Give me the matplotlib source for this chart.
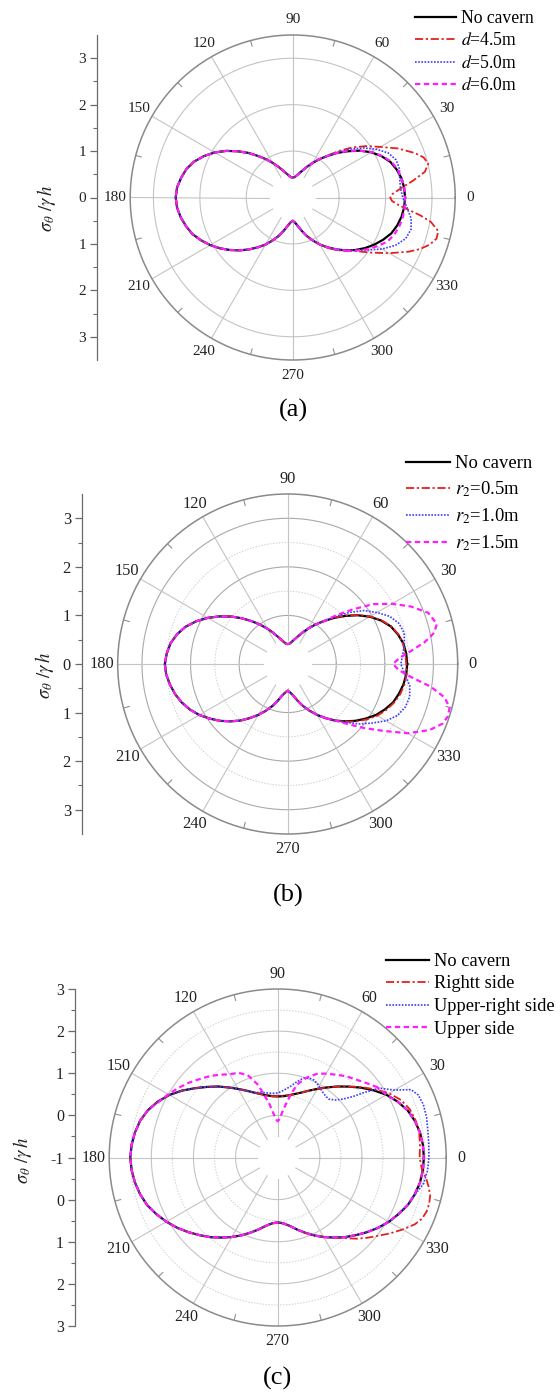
import numpy as np
import matplotlib
matplotlib.use("Agg")
import matplotlib.pyplot as plt

plt.rcParams['font.family'] = ['Liberation Serif', 'DejaVu Serif']
plt.rcParams['mathtext.fontset'] = 'stix'

# ---------------------------------------------------------------- data
# angles in degrees, values = sigma_theta / (gamma h)
# Each cavern case coincides with the "No cavern" curve except on the arc listed.

# ---- panel (a): cavern distance d
a_base_th = list(range(-180, 181, 5))
a_base = [2.52, 2.50, 2.45, 2.38, 2.30, 2.18, 2.05, 1.91, 1.76, 1.61,
          1.46, 1.31, 1.17, 1.02, 0.88, 0.74, 0.62, 0.54, 0.50,          # -180 .. -90
          0.54, 0.62, 0.74, 0.88, 1.02, 1.17, 1.31, 1.46, 1.61, 1.76,
          1.90, 2.03, 2.15, 2.26, 2.33, 2.38, 2.41, 2.42,                # -85 .. 0
          2.41, 2.38, 2.32, 2.24, 2.11, 1.95, 1.76, 1.55, 1.36, 1.17,
          1.01, 0.86, 0.73, 0.62, 0.54, 0.48, 0.44, 0.43,                # 5 .. 90
          0.44, 0.48, 0.54, 0.62, 0.73, 0.86, 1.01, 1.17, 1.36, 1.55,
          1.75, 1.94, 2.11, 2.26, 2.37, 2.44, 2.50, 2.52]                # 95 .. 180

a_d45_th = [-55, -50, -45, -40, -35, -30, -25, -22, -19, -16, -13, -10,
            -8, -6, -4, -2, 0, 2, 5, 8, 11, 14, 17, 20, 25, 30, 35, 40, 45, 50]
a_d45 = [1.33, 1.48, 1.62, 1.80, 2.07, 2.40, 2.76, 2.96, 3.12, 3.22, 3.22, 3.02,
         2.78, 2.50, 2.28, 2.14, 2.10, 2.15, 2.35, 2.62, 2.90, 3.01, 2.95, 2.80,
         2.50, 2.18, 1.93, 1.68, 1.42, 1.19]

a_d50_th = [-45, -40, -35, -30, -25, -20, -15, -10, -5, 0, 5, 10, 15, 20, 25, 30, 35, 40, 45]
a_d50 = [1.60, 1.77, 1.97, 2.22, 2.44, 2.59, 2.64, 2.59, 2.47, 2.37,
         2.33, 2.34, 2.38, 2.37, 2.27, 2.08, 1.86, 1.62, 1.38]

a_d60_th = [-45, -40, -35, -30, -25, -20, -15, -10, -5, 0, 5, 10, 15, 20, 25, 30, 35, 40, 45]
a_d60 = [1.62, 1.78, 1.95, 2.10, 2.25, 2.33, 2.38, 2.41, 2.42, 2.42,
         2.41, 2.38, 2.34, 2.26, 2.12, 1.96, 1.76, 1.56, 1.36]

# ---- panel (b): cavern radius r2
b_base_th = list(range(-180, 181, 5))
b_base = [2.53, 2.51, 2.46, 2.40, 2.32, 2.22, 2.10, 1.96, 1.82, 1.67,
          1.52, 1.36, 1.21, 1.06, 0.92, 0.78, 0.66, 0.59, 0.55,          # -180 .. -90
          0.59, 0.66, 0.78, 0.92, 1.06, 1.21, 1.36, 1.52, 1.67, 1.82,
          1.96, 2.10, 2.21, 2.31, 2.37, 2.42, 2.45, 2.46,                # -85 .. 0
          2.45, 2.42, 2.35, 2.26, 2.12, 1.95, 1.75, 1.54, 1.34, 1.15,
          0.99, 0.84, 0.71, 0.60, 0.52, 0.46, 0.42, 0.41,                # 5 .. 90
          0.42, 0.46, 0.52, 0.60, 0.71, 0.84, 0.99, 1.15, 1.33, 1.52,
          1.71, 1.90, 2.08, 2.24, 2.36, 2.45, 2.50, 2.53]                # 95 .. 180

b_r05_th = [-45, -40, -35, -30, -25, -20, -15, -10, -5, 0, 5, 10, 15, 20, 25, 30, 35, 40, 45]
b_r05 = [1.68, 1.84, 1.99, 2.13, 2.24, 2.33, 2.40, 2.44, 2.46, 2.44,
         2.43, 2.41, 2.36, 2.27, 2.13, 1.96, 1.76, 1.55, 1.35]

b_r10_th = [-45, -40, -35, -30, -25, -20, -15, -10, -5, 0, 5, 10, 15, 20, 25, 30, 35, 40, 45]
b_r10 = [1.70, 1.92, 2.12, 2.34, 2.50, 2.58, 2.60, 2.55, 2.42, 2.33,
         2.38, 2.44, 2.48, 2.44, 2.32, 2.12, 1.92, 1.65, 1.38]

b_r15_th = [-55, -50, -45, -40, -35, -30, -25, -21, -18, -15, -12, -9, -6, -3,
            0, 3, 6, 9, 12, 15, 20, 25, 30, 35, 40, 45]
b_r15 = [1.36, 1.52, 1.75, 2.05, 2.40, 2.85, 3.22, 3.42, 3.47, 3.45, 3.30, 2.98, 2.55, 2.28,
         2.17, 2.30, 2.55, 2.85, 3.08, 3.18, 3.08, 2.80, 2.48, 2.15, 1.75, 1.42]

# ---- panel (c): cavern location (radial axis starts at -1 in the centre)
c_base_th = list(range(0, 361, 5))
c_base = [2.47, 2.46, 2.43, 2.37, 2.28, 2.14, 1.98, 1.78, 1.58, 1.38,
          1.20, 1.03, 0.88, 0.75, 0.64, 0.56, 0.50, 0.46, 0.45,          # 0 .. 90
          0.46, 0.50, 0.56, 0.64, 0.75, 0.88, 1.03, 1.20, 1.37, 1.56,
          1.77, 1.97, 2.14, 2.28, 2.38, 2.44, 2.48, 2.50,                # 95 .. 180
          2.48, 2.44, 2.38, 2.30, 2.18, 2.05, 1.91, 1.76, 1.61, 1.47,
          1.32, 1.18, 1.04, 0.90, 0.77, 0.65, 0.57, 0.54,                # 185 .. 270
          0.57, 0.65, 0.77, 0.90, 1.04, 1.18, 1.32, 1.47, 1.61, 1.76,
          1.91, 2.05, 2.17, 2.29, 2.37, 2.43, 2.46, 2.47]                # 275 .. 360

c_right_th = [-55, -50, -46, -42, -38, -34, -30, -26, -23, -20, -17, -14, -11, -8, -5,
              0, 5, 10, 15, 20, 25, 30, 35, 40]
c_right = [1.33, 1.50, 1.68, 1.85, 2.02, 2.22, 2.42, 2.62, 2.72, 2.76, 2.76, 2.73, 2.65, 2.56, 2.44,
           2.37, 2.39, 2.41, 2.39, 2.34, 2.23, 2.05, 1.82, 1.60]

c_upright_th = [-15, -10, -5, 0, 5, 10, 15, 20, 24, 27, 30, 34, 37, 39, 42, 45,
                49, 52, 56, 59, 62, 65, 68, 72, 76, 80, 85, 90, 95, 100, 105]
c_upright = [2.38, 2.52, 2.57, 2.59, 2.60, 2.62, 2.66, 2.68, 2.65, 2.55, 2.20, 1.94, 1.56, 1.30,
             1.07, 0.93, 0.84, 0.85, 0.89, 0.94, 0.99, 1.03, 1.03, 0.98, 0.85, 0.71, 0.60, 0.53,
             0.53, 0.56, 0.60]

c_upper_th = [35, 40, 45, 50, 55, 60, 65, 70, 75, 78, 81, 84, 87, 90, 93, 96, 99, 102, 105,
              110, 115, 120, 125, 130, 135, 140, 145, 150, 155]
c_upper = [1.90, 1.75, 1.62, 1.52, 1.40, 1.30, 1.19, 1.02, 0.80, 0.55, 0.30, 0.10, -0.08,
           -0.14, -0.08, 0.08, 0.30, 0.50, 0.78, 1.08, 1.22, 1.28, 1.40, 1.52, 1.63, 1.76,
           1.88, 2.00, 2.12]

# labels
angle_ticks = list(range(0, 360, 30))
angle_labels = [str(a) for a in angle_ticks]
left_ticks_ab = [3, 2, 1, 0, -1, -2, -3]
left_labels_ab = ['3', '2', '1', '0', '1', '2', '3']
left_ticks_c = [4, 3, 2, 1, 0, -1, -2, -3, -4]
left_labels_c = ['3', '2', '1', '0', '-1', '0', '1', '2', '3']
legend_a = ['No cavern', r'$d$=4.5m', r'$d$=5.0m', r'$d$=6.0m']
legend_b = ['No cavern', r'$r_2$=0.5m', r'$r_2$=1.0m', r'$r_2$=1.5m']
legend_c = ['No cavern', 'Rightt side', 'Upper-right side', 'Upper side']
ylabel_txt = r'$\sigma_{\theta}\ /\gamma\, h$'


def full_curve(base_th, base_v, arc_th=None, arc_v=None):
    """Closed curve: the base readings, with the listed arc replacing the base there."""
    bt = np.asarray(base_th, float) % 360
    bv = np.asarray(base_v, float)
    if arc_th is None:
        th, v = bt, bv
    else:
        at = np.asarray(arc_th, float)
        av = np.asarray(arc_v, float)
        lo, hi = at[0], at[-1]
        bts = (bt - lo) % 360 + lo
        keep = bts > hi
        th = np.concatenate([at, bts[keep]])
        v = np.concatenate([av, bv[keep]])
    th, idx = np.unique(th, return_index=True)
    v = v[idx]
    th = np.append(th, th[0] + 360)
    v = np.append(v, v[0])
    return np.deg2rad(th), v


# ---------------------------------------------------------------- styles
W, H = 560, 1396
fig = plt.figure(figsize=(W / 100, H / 100), dpi=100)
fig.patch.set_facecolor('white')

STY = [dict(color='black', lw=1.6, ls='-'),
       dict(color='#e3211f', lw=1.3, ls=(0, (4.5, 1.5, 1.2, 1.5))),
       dict(color='#3c3cff', lw=1.2, ls=(0, (1.0, 0.9))),
       dict(color='#ff1cff', lw=1.6, ls=(0, (2.4, 1.6)))]


def fx(px):
    return px / W


def fy(py):
    return 1 - py / H


def panel(cx, cy, rad, rmin, rmax, r_in, solid_r, dotted_r, grid_c, ax_x,
          yl_x, yl_y, lt, ll, curves, labels, leg_xy, leg_fs, leg_sp, tick_fs, tag, tag_xy):
    ax = fig.add_axes([fx(cx - rad), fy(cy + rad), 2 * rad / W, 2 * rad / H],
                      projection='polar')
    ax.set_ylim(rmin, rmax)
    ax.grid(False)
    ax.set_yticks([])
    th = np.linspace(0, 2 * np.pi, 721)
    for r in solid_r:
        ax.plot(th, np.full_like(th, r), color=grid_c, lw=0.8, zorder=1)
    for r in dotted_r:
        ax.plot(th, np.full_like(th, r), color='#d0d0d0', lw=0.7, ls=(0, (1.5, 1.5)), zorder=1)
    for a in range(0, 360, 30):
        ax.plot([np.deg2rad(a)] * 2, [r_in, rmax], color='#c4c4c4', lw=0.8, zorder=1)
    span = rmax - rmin
    for a in range(15, 360, 30):
        ax.plot([np.deg2rad(a)] * 2, [rmax - 0.035 * span, rmax], color='#909090', lw=0.8, zorder=1)
    ax.spines['polar'].set_color('#8a8a8a')
    ax.spines['polar'].set_linewidth(1.1)
    ax.set_xticks(np.deg2rad(angle_ticks))
    ax.set_xticklabels(angle_labels, fontsize=tick_fs, color='#222222')
    ax.tick_params(axis='x', length=0, pad=4)
    handles = []
    for (tt, vv), st in zip(curves, STY):
        h, = ax.plot(tt, vv, zorder=3, **st)
        handles.append(h)
    ax.legend(handles, labels, loc='upper left', bbox_to_anchor=(fx(leg_xy[0]), fy(leg_xy[1])),
              bbox_transform=fig.transFigure, frameon=False, fontsize=leg_fs,
              handlelength=2.35, handletextpad=0.28, labelspacing=leg_sp,
              borderpad=0, borderaxespad=0)

    # left linear axis
    half = (rmax - rmin)
    axl = fig.add_axes([fx(ax_x), fy(cy + rad), 0.0001, 2 * rad / H])
    axl.set_ylim(-half, half)
    for s in ['right', 'top', 'bottom']:
        axl.spines[s].set_visible(False)
    axl.spines['left'].set_color('#6a6a6a')
    axl.spines['left'].set_linewidth(0.9)
    axl.patch.set_visible(False)
    axl.set_xticks([])
    axl.set_yticks(lt)
    axl.set_yticklabels(ll)
    minors = [v + 0.5 for v in lt[1:]]
    axl.set_yticks(minors, minor=True)
    axl.tick_params(axis='y', which='major', direction='out', length=5, width=0.9,
                    color='#6a6a6a', labelsize=tick_fs, pad=3, labelcolor='#222222')
    axl.tick_params(axis='y', which='minor', direction='out', length=3, width=0.8,
                    color='#6a6a6a')
    fig.text(fx(yl_x), fy(yl_y), ylabel_txt, rotation=90, ha='center', va='center',
             fontsize=13.5, color='#222222')
    fig.text(fx(tag_xy[0]), fy(tag_xy[1]), tag, ha='center', va='center', fontsize=19)


curves_a = [full_curve(a_base_th, a_base),
            full_curve(a_base_th, a_base, a_d45_th, a_d45),
            full_curve(a_base_th, a_base, a_d50_th, a_d50),
            full_curve(a_base_th, a_base, a_d60_th, a_d60)]
curves_b = [full_curve(b_base_th, b_base),
            full_curve(b_base_th, b_base, b_r05_th, b_r05),
            full_curve(b_base_th, b_base, b_r10_th, b_r10),
            full_curve(b_base_th, b_base, b_r15_th, b_r15)]
curves_c = [full_curve(c_base_th, c_base),
            full_curve(c_base_th, c_base, c_right_th, c_right),
            full_curve(c_base_th, c_base, c_upright_th, c_upright),
            full_curve(c_base_th, c_base, c_upper_th, c_upper)]

panel(292.7, 197.5, 162.5, 0, 3.5, 0.5, [1, 2, 3], [], '#c4c4c4', 97, 47, 208,
      left_ticks_ab, left_labels_ab, curves_a,
      legend_a, (415, 10), 12.7, 0.31, 11, '(a)', (293, 410))

panel(287.7, 664, 170, 0, 3.5, 0.5, [1, 2, 3], [1.5, 2.5], '#a9a9a9', 82, 45, 675,
      left_ticks_ab, left_labels_ab, curves_b,
      legend_b, (406, 455), 13.4, 0.40, 11.8, '(b)', (288, 895))

panel(277.7, 1157.5, 168.5, -1, 3, -0.5, [0, 1, 2], [0.5, 1.5, 2.5], '#c4c4c4', 75, 22, 1160,
      left_ticks_c, left_labels_c, curves_c,
      legend_c, (386, 953), 13.2, 0.30, 11.5, '(c)', (278, 1378))

fig.savefig('out.png', dpi=100, facecolor='white')
